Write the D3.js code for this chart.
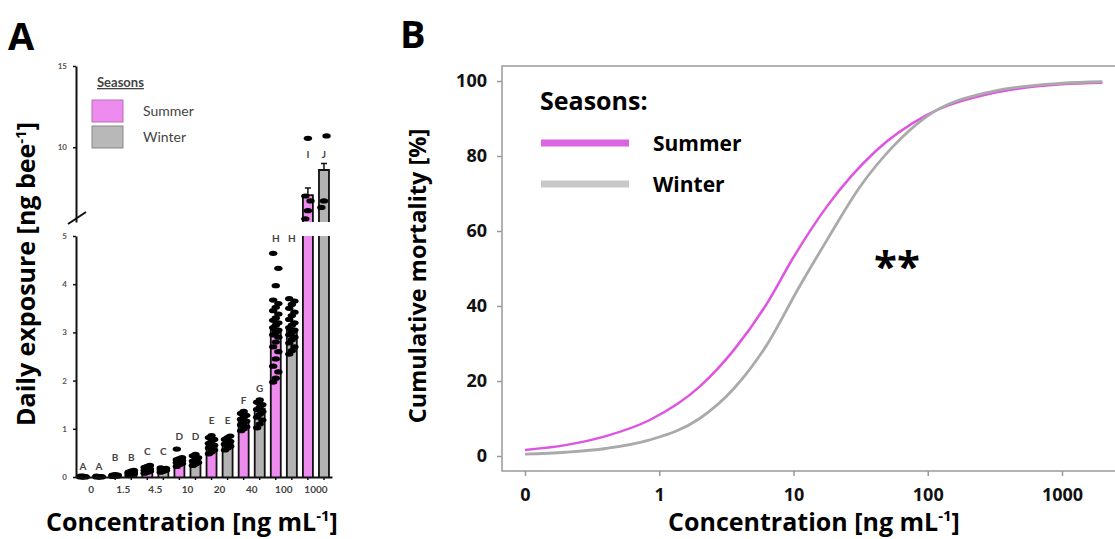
<!DOCTYPE html>
<html>
<head>
<meta charset="utf-8">
<script src="https://cdn.jsdelivr.net/npm/d3@7"></script>
<style>
  body { margin: 0; background: #fff; }
  svg { display: block; font-family: Lato, "Open Sans", sans-serif; }
  .big { font-family: "Open Sans", Lato, sans-serif; font-weight: 700; }
</style>
</head>
<body>
<svg id="chart" width="1115" height="539"></svg>
<script>
// ---- panel A data ----
const concLabels = ["0", "1.5", "4.5", "10", "20", "40", "100", "1000"];
const seasons = ["Summer", "Winter"];
const summerMean = [0.01, 0.03, 0.15, 0.30, 0.65, 1.15, 3.05, 7.05];
const winterMean = [0.01, 0.07, 0.15, 0.33, 0.70, 1.42, 3.05, 8.60];
const summerSE = [0.005, 0.01, 0.02, 0.03, 0.04, 0.04, 0.12, 0.45];
const winterSE = [0.005, 0.01, 0.01, 0.03, 0.03, 0.05, 0.07, 0.40];
const summerLetters = ["A", "B", "C", "D", "E", "F", "H", "I"];
const winterLetters = ["A", "B", "C", "D", "E", "G", "H", "J"];
const summerLetterAt = [0.21, 0.41, 0.52, 0.83, 1.18, 1.59, 4.95, 9.57];
const winterLetterAt = [0.21, 0.41, 0.52, 0.83, 1.18, 1.84, 4.95, 9.57];
const summerDots = [
  [0, 0, 0.01, 0.01, 0.02, 0, 0.01, 0.02],
  [0.01, 0.02, 0.03, 0.03, 0.04, 0.05, 0.02, 0.04],
  [0.08, 0.10, 0.12, 0.14, 0.17, 0.20, 0.22, 0.24, 0.15],
  [0.22, 0.26, 0.28, 0.30, 0.32, 0.34, 0.36, 0.38, 0.40, 0.58],
  [0.48, 0.52, 0.56, 0.60, 0.63, 0.66, 0.70, 0.74, 0.78, 0.82, 0.86],
  [0.96, 1.00, 1.04, 1.08, 1.12, 1.16, 1.20, 1.24, 1.28, 1.32, 1.36],
  [1.97, 2.05, 2.18, 2.30, 2.45, 2.60, 2.70, 2.80, 2.90, 2.95, 3.00, 3.05, 3.10,
   3.15, 3.20, 3.25, 3.30, 3.38, 3.45, 3.52, 3.60, 3.67, 3.97, 4.33, 4.64],
  [5.6, 6.1, 6.7, 7.0, 10.55]
];
const winterDots = [
  [0, 0.01, 0, 0.01, 0.02, 0, 0.01],
  [0.03, 0.05, 0.06, 0.08, 0.10, 0.12, 0.14, 0.07, 0.09],
  [0.10, 0.12, 0.14, 0.16, 0.18, 0.19, 0.15],
  [0.24, 0.27, 0.30, 0.33, 0.36, 0.40, 0.44, 0.47],
  [0.56, 0.60, 0.64, 0.68, 0.71, 0.74, 0.78, 0.82, 0.85],
  [1.02, 1.10, 1.18, 1.24, 1.30, 1.36, 1.40, 1.45, 1.50, 1.55, 1.60],
  [2.55, 2.62, 2.70, 2.78, 2.85, 2.90, 2.95, 3.00, 3.05, 3.10, 3.15, 3.20, 3.27,
   3.35, 3.42, 3.50, 3.58, 3.65, 3.70],
  [6.3, 6.7, 10.7]
];

// ---- panel B data ----
const summerConc = [0.1, 0.2, 0.4, 0.85, 2, 3.6, 6.3, 10, 17.7, 41.8, 98, 300, 1000, 2000];
const summerMortality = [1.6, 2.9, 5.3, 9.6, 18.5, 28.3, 40.5, 53, 66.5, 81.6, 90.9, 96.7, 99.1, 99.5];
const winterConc = [0.1, 0.2, 0.4, 0.85, 2, 3.6, 6.3, 11, 17.7, 31.3, 55, 98, 300, 1000, 2000];
const winterMortality = [0.5, 1.0, 2.0, 4.3, 10.0, 18, 29.5, 45, 57.5, 71.8, 82.5, 90.5, 97.2, 99.4, 99.8];
const mortTicks = [0, 20, 40, 60, 80, 100];
const concTicks = [0.1, 1, 10, 100, 1000];

const pink = "#ee8bee", grey = "#b3b3b3";
const svg = d3.select("#chart");

// ================= Panel A =================
const gA = svg.append("g");
const xConc = d3.scaleBand().domain(concLabels).range([75, 332]);
const xSeason = d3.scaleBand().domain(seasons).range([0, xConc.bandwidth()]);
const yLow = d3.scaleLinear().domain([0, 5]).range([477, 236]);
const yHigh = d3.scaleLinear().domain([5.4, 15]).range([222, 66]);
const yVal = v => v <= 5 ? yLow(v) : yHigh(v);
const barW = 10;

const rows = concLabels.flatMap((c, i) => seasons.map(s => {
  const summer = s === "Summer";
  return {
    conc: c, season: s,
    mean: summer ? summerMean[i] : winterMean[i],
    se: summer ? summerSE[i] : winterSE[i],
    dots: summer ? summerDots[i] : winterDots[i],
    letter: summer ? summerLetters[i] : winterLetters[i],
    letterAt: summer ? summerLetterAt[i] : winterLetterAt[i]
  };
}));
const cx = d => xConc(d.conc) + xSeason(d.season) + xSeason.bandwidth() / 2;

const bars = gA.append("g").selectAll("g").data(rows).enter().append("g");
// lower part of each bar
bars.append("rect")
  .attr("x", d => cx(d) - barW / 2)
  .attr("y", d => yLow(Math.min(d.mean, 5)))
  .attr("width", barW)
  .attr("height", d => yLow(0) - yLow(Math.min(d.mean, 5)))
  .attr("fill", d => d.season === "Summer" ? pink : grey);
bars.append("path")
  .attr("fill", "none").attr("stroke", "#111").attr("stroke-width", 1.8)
  .attr("d", d => {
    const x0 = cx(d) - barW / 2, x1 = cx(d) + barW / 2, t = yLow(Math.min(d.mean, 5));
    return d.mean > 5
      ? `M${x0},${yLow(0)}V${t}M${x1},${t}V${yLow(0)}`
      : `M${x0},${yLow(0)}V${t}H${x1}V${yLow(0)}`;
  });
// upper part for values above the break
const tall = bars.filter(d => d.mean > 5);
tall.append("rect")
  .attr("x", d => cx(d) - barW / 2)
  .attr("y", d => yHigh(d.mean))
  .attr("width", barW)
  .attr("height", d => yHigh(5.4) - yHigh(d.mean))
  .attr("fill", d => d.season === "Summer" ? pink : grey);
tall.append("path")
  .attr("fill", "none").attr("stroke", "#111").attr("stroke-width", 1.8)
  .attr("d", d => {
    const x0 = cx(d) - barW / 2, x1 = cx(d) + barW / 2;
    return `M${x0},${yHigh(5.4)}V${yHigh(d.mean)}H${x1}V${yHigh(5.4)}`;
  });
// error bars
bars.append("path")
  .attr("fill", "none").attr("stroke", "#111").attr("stroke-width", 1.5)
  .attr("d", d => {
    const top = yVal(d.mean + d.se), x = cx(d);
    return `M${x},${yVal(d.mean)}V${top}M${x - 3},${top}H${x + 3}`;
  });
// individual points
bars.each(function(d) {
  d3.select(this).selectAll("ellipse")
    .data(d.dots.slice().sort(d3.ascending))
    .enter().append("ellipse")
    .attr("cx", (v, i) => cx(d) + ((i % 3) - 1) * 2.6)
    .attr("cy", v => yVal(v))
    .attr("rx", 4.2).attr("ry", 2.6)
    .attr("fill", "#000");
});
// group letters
bars.append("text")
  .attr("x", d => cx(d))
  .attr("y", d => yVal(d.letterAt))
  .attr("dy", "0.35em")
  .attr("text-anchor", "middle")
  .attr("font-size", 10).attr("font-weight", 700).attr("fill", "#444")
  .text(d => d.letter);

// axes
const styleAxisA = g => {
  g.select(".domain").attr("stroke", "#111").attr("stroke-width", 2);
  g.selectAll(".tick line").attr("stroke", "#111").attr("stroke-width", 1.5);
  g.selectAll(".tick text").attr("font-size", 8).attr("font-weight", 700)
    .attr("fill", "#555").attr("font-family", "Lato, sans-serif");
};
gA.append("g").attr("transform", "translate(76,0)")
  .call(d3.axisLeft(yLow).tickValues([0, 1, 2, 3, 4, 5]).tickFormat(d3.format("d"))
    .tickSize(3).tickSizeOuter(0).tickPadding(6))
  .call(styleAxisA);
gA.append("g").attr("transform", "translate(76,0)")
  .call(d3.axisLeft(yHigh).tickValues([10, 15]).tickFormat(d3.format("d"))
    .tickSize(3).tickSizeOuter(0).tickPadding(6))
  .call(styleAxisA);
gA.append("line")
  .attr("x1", 68).attr("y1", yHigh(5.4) + 2)
  .attr("x2", 86).attr("y2", yHigh(5.4) - 10)
  .attr("stroke", "#111").attr("stroke-width", 2);

gA.append("g").attr("transform", `translate(0,${yLow(0)})`)
  .call(d3.axisBottom(xConc).tickSize(0).tickPadding(9))
  .call(g => {
    g.select(".domain").attr("stroke", "#111").attr("stroke-width", 2);
    g.selectAll(".tick text").attr("font-size", 10).attr("font-weight", 700)
      .attr("fill", "#444").attr("font-family", "Lato, sans-serif");
  });
gA.append("g").selectAll("line").data(rows).enter().append("line")
  .attr("x1", cx).attr("x2", cx)
  .attr("y1", yLow(0)).attr("y2", yLow(0) + 3)
  .attr("stroke", "#111").attr("stroke-width", 1.5);

// legend A
const legA = gA.append("g");
legA.append("text").attr("x", 97).attr("y", 87)
  .attr("font-size", 13).attr("font-weight", 700).attr("fill", "#444")
  .attr("text-decoration", "underline").text("Seasons");
seasons.forEach((s, i) => {
  legA.append("rect").attr("x", 92).attr("y", 100 + i * 26).attr("width", 31).attr("height", 22)
    .attr("fill", i === 0 ? pink : "#b8b8b8")
    .attr("stroke", i === 0 ? "#b66fb6" : "#888").attr("stroke-width", 1);
  legA.append("text").attr("x", 143).attr("y", 116 + i * 26)
    .attr("font-size", 14).attr("fill", "#444").text(s);
});

// labels A
gA.append("text").attr("class", "big").attr("x", 8).attr("y", 50)
  .attr("font-size", 38).text("A");
const yLabA = gA.append("text").attr("class", "big")
  .attr("transform", "translate(35,274) rotate(-90)")
  .attr("text-anchor", "middle").attr("font-size", 25);
yLabA.append("tspan").text("Daily exposure [ng bee");
yLabA.append("tspan").attr("font-size", 15).attr("dy", -9).text("-1");
yLabA.append("tspan").attr("dy", 9).text("]");
const xLabA = gA.append("text").attr("class", "big")
  .attr("x", 192).attr("y", 531)
  .attr("text-anchor", "middle").attr("font-size", 25);
xLabA.append("tspan").text("Concentration [ng mL");
xLabA.append("tspan").attr("font-size", 15).attr("dy", -10).text("-1");
xLabA.append("tspan").attr("dy", 10).text("]");

// ================= Panel B =================
const gB = svg.append("g");
const xB = d3.scaleLog().domain([0.1, 1000]).range([525, 1062]);
const yB = d3.scaleLinear().domain([0, 100]).range([456, 81]);
const frameL = 502, frameT = 66, frameB = 471;

gB.append("path").attr("fill", "none").attr("stroke", "#999").attr("stroke-width", 1.5)
  .attr("d", `M1115,${frameT}H${frameL}V${frameB}H1115`);

const styleAxisB = g => {
  g.select(".domain").remove();
  g.selectAll(".tick line").attr("stroke", "#999").attr("stroke-width", 1.5);
  g.selectAll(".tick text").attr("font-size", 18).attr("font-weight", 700)
    .attr("fill", "#111").attr("font-family", "'Open Sans', sans-serif");
};
gB.append("g").attr("transform", `translate(${frameL},0)`)
  .call(d3.axisLeft(yB).tickValues(mortTicks).tickSize(5).tickPadding(10))
  .call(styleAxisB);
gB.append("g").attr("transform", `translate(0,${frameB})`)
  .call(d3.axisBottom(xB).tickValues(concTicks)
    .tickFormat(d => d === 0.1 ? "0" : d3.format("d")(d)).tickSize(5).tickPadding(12))
  .call(styleAxisB);

const line = d3.line().x(d => xB(d.c)).y(d => yB(d.v)).curve(d3.curveMonotoneX);
const summerPts = summerConc.map((c, i) => ({ c, v: summerMortality[i] }));
const winterPts = winterConc.map((c, i) => ({ c, v: winterMortality[i] }));
gB.append("path").datum(summerPts).attr("d", line)
  .attr("fill", "none").attr("stroke", "#dd55e0").attr("stroke-width", 2.5);
gB.append("path").datum(winterPts).attr("d", line)
  .attr("fill", "none").attr("stroke", "#aaaaaa").attr("stroke-width", 2.8);

// significance marker
gB.append("text").attr("class", "big").attr("x", 897).attr("y", 281).attr("text-anchor", "middle")
  .attr("font-size", 42).text("**");

// legend B
gB.append("text").attr("class", "big").attr("x", 540).attr("y", 110)
  .attr("font-size", 25).text("Seasons:");
[["Summer", "#d966e0"], ["Winter", "#c8c8c8"]].forEach(([s, col], i) => {
  gB.append("line").attr("x1", 541).attr("x2", 629)
    .attr("y1", 143 + i * 41).attr("y2", 143 + i * 41)
    .attr("stroke", col).attr("stroke-width", 7);
  gB.append("text").attr("class", "big").attr("x", 653).attr("y", 151 + i * 41)
    .attr("font-size", 21).text(s);
});

// labels B
gB.append("text").attr("class", "big").attr("x", 400).attr("y", 48)
  .attr("font-size", 38).text("B");
gB.append("text").attr("class", "big")
  .attr("transform", "translate(426,276) rotate(-90)")
  .attr("text-anchor", "middle").attr("font-size", 23.5)
  .text("Cumulative mortality [%]");
const xLabB = gB.append("text").attr("class", "big")
  .attr("x", 814).attr("y", 531)
  .attr("text-anchor", "middle").attr("font-size", 25);
xLabB.append("tspan").text("Concentration [ng mL");
xLabB.append("tspan").attr("font-size", 15).attr("dy", -10).text("-1");
xLabB.append("tspan").attr("dy", 10).text("]");
</script>
</body>
</html>
